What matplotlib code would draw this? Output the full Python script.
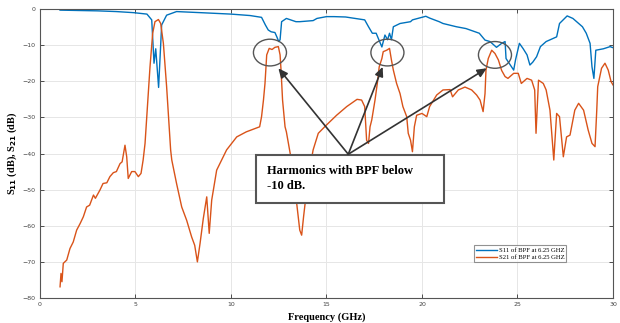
import matplotlib.pyplot as plt
import matplotlib.patches as mpatches
import numpy as np

# S11 of the BPF (blue)
f_s11 = [1.05, 2.0, 3.0, 4.0, 4.9, 5.6, 5.85, 5.97, 6.06, 6.21, 6.37, 6.63, 7.15,
         8.4, 10.0, 11.0, 11.6, 11.8, 11.95, 12.1, 12.3, 12.4, 12.5, 12.57, 12.65,
         12.9, 13.4, 13.6, 14.3, 14.5, 15.0, 15.4, 16.0, 16.5, 17.0, 17.2, 17.4,
         17.6, 17.9, 18.06, 18.2, 18.3, 18.4, 18.5, 18.85, 19.4, 19.5, 20.2, 20.4,
         20.9, 21.1, 21.8, 22.3, 23.0, 23.3, 23.56, 23.9, 24.17, 24.35, 24.4, 24.8,
         24.9, 25.1, 25.3, 25.5, 25.65, 25.8, 26.0, 26.2, 26.5, 27.05, 27.2, 27.6,
         27.9, 28.4, 28.6, 28.8, 28.9, 29.0, 29.1, 29.5, 29.85, 30.0]
s11 = [-0.3, -0.4, -0.5, -0.7, -1.0, -1.4, -3.0, -15.0, -11.0, -21.7, -4.4, -1.7, -0.7,
       -1.0, -1.4, -1.8, -2.3, -4.4, -5.8, -6.3, -6.5, -7.7, -9.0, -8.5, -3.5,
       -2.6, -3.5, -3.5, -3.2, -2.6, -2.1, -2.1, -2.2, -2.6, -3.0, -4.9, -6.7,
       -6.7, -10.5, -7.2, -8.5, -6.7, -8.5, -4.9, -4.0, -3.5, -3.0, -2.0, -2.5,
       -3.5, -4.0, -4.9, -5.4, -6.7, -8.6, -9.0, -10.6, -9.5, -9.0, -13.7, -16.9,
       -14.0, -9.5, -11.0, -12.7, -15.5, -14.7, -13.2, -10.4, -9.0, -7.7, -4.0, -1.9,
       -2.6, -4.9, -6.7, -9.5, -16.0, -19.2, -11.4, -11.0, -10.4, -10.7]

# S21 of the BPF (orange)
f_s21 = [1.05, 1.1, 1.15, 1.22, 1.4, 1.57, 1.74, 1.92, 2.1, 2.27, 2.44, 2.6, 2.8, 2.9,
         3.14, 3.3, 3.5, 3.66, 3.84, 4.0, 4.19, 4.3, 4.45, 4.54, 4.62, 4.8, 4.97,
         5.15, 5.29, 5.4, 5.5, 5.76, 5.9, 6.02, 6.2, 6.32, 6.46, 6.63, 6.84, 6.9,
         7.15, 7.42, 7.68, 7.94, 8.1, 8.24, 8.38, 8.55, 8.73, 8.86, 8.99, 9.25,
         9.77, 10.3, 10.8, 11.5, 11.6, 11.7, 11.78, 11.87, 12.0, 12.15, 12.3, 12.48,
         12.57, 12.62, 12.7, 12.83, 12.9, 13.1, 13.35, 13.44, 13.6, 13.7, 13.8,
         13.87, 14.05, 14.3, 14.57, 15.0, 15.53, 16.06, 16.6, 16.84, 17.0, 17.1,
         17.2, 17.28, 17.37, 17.54, 17.66, 17.76, 17.9, 17.97, 18.15, 18.3, 18.4,
         18.5, 18.67, 18.85, 19.0, 19.2, 19.28, 19.4, 19.5, 19.6, 19.72, 20.0,
         20.25, 20.4, 20.77, 21.1, 21.47, 21.6, 21.9, 22.25, 22.6, 22.86, 23.04,
         23.2, 23.3, 23.35, 23.47, 23.65, 23.82, 24.0, 24.17, 24.35, 24.5, 24.8,
         25.04, 25.2, 25.5, 25.74, 25.9, 25.97, 26.1, 26.35, 26.5, 26.7, 26.9,
         27.05, 27.2, 27.4, 27.57, 27.75, 28.0, 28.2, 28.46, 28.7, 28.9, 29.06,
         29.15, 29.2, 29.4, 29.58, 29.75, 29.9, 30.0]
s21 = [-76.9, -73.2, -75.5, -70.4, -69.5, -66.3, -64.5, -61.2, -59.4, -57.5, -54.8,
       -54.3, -51.5, -52.4, -50.1, -48.3, -48.1, -46.4, -45.3, -45.0, -42.8, -42.3,
       -37.7, -40.9, -46.9, -45.0, -45.0, -46.4, -45.5, -41.8, -37.2, -16.0, -6.7,
       -3.5, -2.9, -4.0, -9.5, -21.5, -39.0, -41.8, -48.3, -54.8, -58.5, -63.1,
       -65.4, -70.0, -64.9, -58.0, -52.0, -62.1, -52.9, -44.6, -39.0, -35.4, -34.0,
       -32.6, -29.8, -25.2, -20.6, -12.7, -10.9, -11.2, -10.6, -10.4, -12.7, -16.9,
       -25.2, -32.6, -34.0, -40.0, -50.0, -53.8, -61.2, -62.6, -57.5, -54.3, -46.4,
       -39.0, -34.4, -32.1, -29.4, -27.0, -25.0, -25.2, -27.0, -36.3, -37.2, -32.6,
       -30.7, -25.2, -20.6, -16.0, -13.7, -11.8, -11.4, -10.9, -14.1, -16.9, -20.6,
       -23.4, -27.0, -29.8, -34.4, -36.3, -39.5, -32.6, -29.4, -28.9, -29.8, -27.0,
       -23.8, -22.4, -22.3, -24.3, -22.4, -21.6, -22.4, -23.8, -25.2, -28.4, -23.4,
       -16.9, -13.7, -11.4, -12.3, -14.1, -17.0, -18.7, -19.2, -17.8, -17.8, -20.6,
       -19.2, -19.7, -22.4, -34.4, -19.7, -20.6, -22.4, -28.0, -41.8, -28.9, -29.8,
       -40.9, -35.4, -34.9, -28.0, -26.1, -28.0, -33.5, -37.2, -38.1, -28.0, -21.5,
       -16.4, -15.0, -16.9, -20.1, -21.0]

xticks = [0, 5, 10, 15, 20, 25, 30]
yticks = [0, -10, -20, -30, -40, -50, -60, -70, -80]

serif = ['Liberation Serif', 'DejaVu Serif']

fig = plt.figure(figsize=(6.2, 3.23), dpi=100)
ax = fig.add_axes([0.0645, 0.0774, 0.9242, 0.8946])

ax.plot(f_s11, s11, color='#0072BD', lw=1.0, label='S11 of BPF at 6.25 GHZ')
ax.plot(f_s21, s21, color='#D95319', lw=1.0, label='S21 of BPF at 6.25 GHZ')

ax.set_xlim(0, 30)
ax.set_ylim(-80, 0)
ax.set_xticks(xticks)
ax.set_yticks(yticks)
ax.grid(True, color='#e6e6e6', lw=0.7)
ax.set_axisbelow(True)
ax.tick_params(direction='in', top=True, right=True, length=3, width=0.6,
               labelsize=4.5, labelcolor='#444444', color='#333333', pad=3)
for sp in ax.spines.values():
    sp.set_color('#555555')
    sp.set_linewidth(0.8)

ax.set_xlabel('Frequency (GHz)', family=serif, fontweight='bold', fontsize=7.5, labelpad=4)
ax.set_ylabel(r'S$_{\mathbf{11}}$ (dB), S$_{\mathbf{21}}$ (dB)', family=serif,
              fontweight='bold', fontsize=7.5)
ax.yaxis.set_label_coords(-0.036, 0.5)

leg = ax.legend(loc='center', bbox_to_anchor=(0.838, 0.154),
                prop={'family': serif, 'size': 4.8}, frameon=True, fancybox=False,
                edgecolor='#777777', handlelength=3.2, borderpad=0.3,
                labelspacing=0.2, handletextpad=0.2)
leg.get_frame().set_linewidth(0.8)

# circles around the harmonics
for cx, cy in [(12.04, -12.05), (18.19, -12.05), (23.82, -12.7)]:
    ax.add_patch(mpatches.Ellipse((cx, cy), 1.73, 7.4, fill=False,
                                  edgecolor='#555555', lw=1.0, zorder=5))

# text box
box = mpatches.Rectangle((0.377, 0.329), 0.328, 0.166, transform=ax.transAxes,
                         facecolor='white', edgecolor='#555555', lw=1.5, zorder=6)
ax.add_patch(box)
ax.text(0.396, 0.46, 'Harmonics with BPF below\n-10 dB.', transform=ax.transAxes,
        family=serif, fontweight='bold', fontsize=9, va='top', ha='left',
        linespacing=1.3, zorder=7)

# arrows
for tx, ty in [(12.48, -16.4), (17.94, -16.0), (23.39, -16.4)]:
    ax.annotate('', xy=(tx, ty), xytext=(16.14, -40.2),
                arrowprops=dict(arrowstyle='-|>,head_length=0.55,head_width=0.25',
                                color='#333333', lw=1.2, shrinkA=0, shrinkB=0),
                zorder=8)

fig.savefig('out.png', dpi=100)
